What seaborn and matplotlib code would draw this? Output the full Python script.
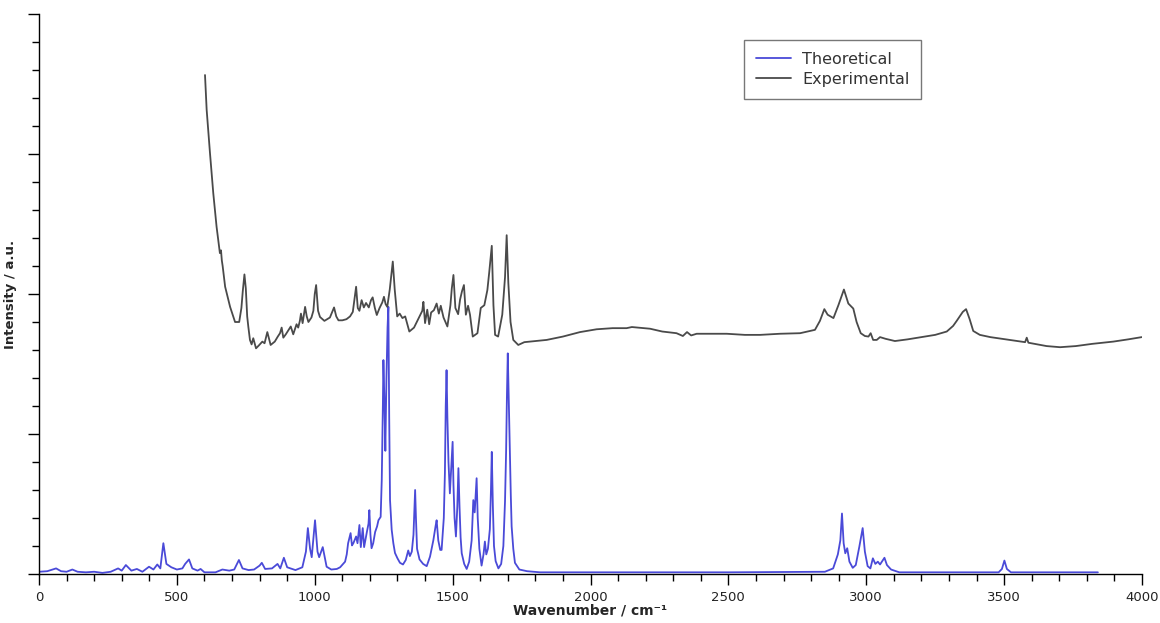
import matplotlib
matplotlib.use("Agg")
import matplotlib.pyplot as plt
from matplotlib.ticker import MultipleLocator, NullFormatter
import seaborn as sns
import pandas as pd

# Theoretical spectrum (wavenumber / cm-1, intensity a.u.)
theo_wn = [0, 30, 62, 80, 100, 121, 140, 170, 200, 230, 260, 287, 300, 315, 335, 355, 375, 399, 415, 429,
           440, 451, 462, 480, 500, 520, 530, 544, 556, 575, 586, 600, 640, 665, 690, 708, 725, 738, 760, 780,
           800, 808, 820, 845, 865, 875, 888, 900, 930, 955, 968, 975, 983, 989, 1001, 1010, 1016, 1029,
           1043, 1060, 1080, 1092, 1103, 1110, 1116, 1121, 1126, 1130, 1135, 1140, 1150, 1155, 1162, 1167,
           1174, 1179, 1189, 1195, 1198, 1202, 1206, 1212, 1219, 1226, 1231, 1239, 1243, 1247, 1249, 1253,
           1256, 1260, 1264, 1267, 1270, 1273, 1279, 1285, 1291, 1300, 1309, 1320, 1330, 1339, 1345, 1352,
           1358, 1362, 1364, 1367, 1371, 1380, 1393, 1406, 1418, 1430, 1438, 1442, 1448, 1455, 1460, 1468,
           1472, 1475, 1478, 1481, 1485, 1490, 1496, 1500, 1503, 1507, 1512, 1517, 1521, 1525, 1529, 1533,
           1542, 1551, 1560, 1569, 1575, 1580, 1587, 1591, 1597, 1605, 1612, 1617, 1622, 1628, 1635, 1639,
           1642, 1646, 1650, 1656, 1666, 1676, 1684, 1690, 1694, 1697, 1700, 1704, 1708, 1711, 1714, 1720,
           1726, 1742, 1770, 1817, 2000, 2500, 2850, 2880, 2897, 2906, 2912, 2918, 2924, 2931, 2939,
           2951, 2962, 2975, 2987, 2995, 3005, 3015, 3024, 3033, 3042, 3050, 3066, 3075, 3090, 3120, 3480,
           3492, 3501, 3510, 3525, 3840]
theo_int = [0.4, 0.5, 1.0, 0.5, 0.4, 0.8, 0.4, 0.3, 0.4, 0.2, 0.4, 1.0, 0.6, 1.6, 0.6, 0.9, 0.4, 1.3, 0.8, 1.7,
            1.0, 5.5, 1.8, 1.2, 0.8, 1.0, 1.8, 2.6, 1.0, 0.6, 0.9, 0.3, 0.3, 0.8, 0.6, 0.8, 2.5, 1.0, 0.7, 0.8,
            1.5, 2.0, 0.9, 1.0, 1.8, 1.0, 2.9, 1.2, 0.7, 1.2, 4.0, 8.2, 4.5, 3.0, 9.6, 4.0, 3.0, 4.8,
            1.3, 0.8, 0.9, 1.2, 1.8, 2.2, 3.5, 5.5, 6.5, 7.3, 5.1, 5.5, 6.7, 5.5, 8.75, 4.8,
            8.2, 4.8, 7.5, 9.0, 11.4, 7.0, 4.6, 5.5, 7.5, 8.5, 9.6, 10.2, 16.8, 30, 38.2, 30,
            22, 35, 44, 47.7, 28, 13.2, 7.9, 5.5, 3.75, 2.8, 2.0, 1.7, 2.5, 4.2, 3.2, 4.0,
            7, 12, 15, 10, 4.5, 2.6, 1.8, 1.4, 3.1, 6, 8.5, 9.6, 6, 4.3, 4.3, 10,
            18, 30, 36.4, 28, 20, 14.4, 20, 23.6, 16, 10, 6.7, 12, 18.9, 12, 6.5, 3.7,
            1.8, 0.9, 2.2, 6, 13.2, 11, 17.1, 10, 4.5, 1.5, 3.5, 5.8, 3.5, 4.5, 8, 15,
            21.8, 12, 5, 2.3, 1.0, 1.8, 5, 13, 22, 32, 39.4, 30, 21, 14, 8.5, 4.5,
            2.0, 0.8, 0.5, 0.3, 0.3, 0.3, 0.4, 1.0, 3.5, 6, 10.8, 5.5, 3.7, 4.6, 2.2,
            1.1, 1.6, 4.9, 8.2, 4, 1.4, 1.0, 2.8, 1.8, 2.2, 1.7, 2.9, 1.6, 0.8, 0.3, 0.3,
            0.9, 2.4, 0.9, 0.3, 0.3]

# Experimental spectrum
exp_wn = [602, 605, 608, 614, 620, 632, 644, 656, 660, 663, 666, 675, 693, 711, 726, 734, 739, 745, 750, 755,
          759, 765, 771, 777, 787, 797, 810, 818, 828, 840, 855, 866, 874, 880, 886, 895, 904, 913, 922, 934,
          940, 946, 950, 956, 965, 971, 977, 988, 995, 1000, 1005, 1012, 1019, 1035, 1055, 1070, 1078, 1086,
          1100, 1115, 1128, 1138, 1144, 1150, 1156, 1162, 1170, 1178, 1186, 1196, 1204, 1210, 1218, 1225,
          1235, 1245, 1251, 1257, 1263, 1272, 1283, 1290, 1299, 1308, 1318, 1328, 1343, 1360, 1378, 1390,
          1394, 1400, 1408, 1415, 1422, 1432, 1442, 1450, 1457, 1467, 1481, 1492, 1497, 1503, 1510, 1520,
          1527, 1534, 1541, 1548, 1556, 1563, 1573, 1590, 1602, 1615, 1626, 1633, 1642, 1648, 1654, 1665,
          1680, 1690, 1696, 1702, 1710, 1720, 1738, 1760, 1800, 1841, 1900, 1962, 2022, 2080, 2131, 2150,
          2216, 2260, 2312, 2335, 2350, 2365, 2385, 2440, 2494, 2560, 2615, 2687, 2760, 2814, 2832, 2848,
          2860, 2881, 2899, 2919, 2935, 2953, 2965, 2980, 2995, 3008, 3016, 3025, 3038, 3050, 3070, 3104,
          3150, 3200, 3250, 3292, 3315, 3328, 3350, 3362, 3375, 3388, 3412, 3450, 3520, 3576, 3582, 3588,
          3654, 3703, 3760, 3820, 3896, 3950, 3999]
exp_int = [89.1, 86, 82.9, 79, 75.2, 68, 62, 57.3, 57.8, 56, 55, 51.3, 47.7, 45, 45, 47.5, 50.5, 53.5, 51, 46,
           44.2, 41.8, 41, 42.1, 40.3, 40.8, 41.5, 41.2, 43.2, 40.9, 41.5, 42.4, 43, 44, 42.2, 42.8, 43.5, 44.2, 42.8, 44.6,
           44, 45.2, 46.5, 44.8, 47.7, 46, 45, 45.8, 47, 50, 51.6, 47, 45.9, 45.2, 45.8, 47.6, 46, 45.3,
           45.3, 45.5, 46, 46.8, 49, 51.3, 47.5, 47, 48.9, 47.6, 48.4, 47.6, 48.9, 49.4, 47.5, 46.25,
           47.5, 48.5, 49.5, 48.2, 47.7, 50.8, 55.8, 50.8, 46, 46.5, 45.7, 46, 43.3, 44, 45.8, 47,
           48.6, 44.8, 47.2, 44.6, 46.7, 47.1, 48.3, 46.5, 47.9, 45.8, 44.2, 48, 51, 53.4, 47.5, 46.4,
           49, 50.5, 51.6, 46.3, 47.9, 46.3, 42.4, 43, 47.5, 48, 50.7, 54, 58.6, 48, 42.7, 42.4,
           46.3, 53, 60.5, 52, 45, 41.8, 40.9, 41.4, 41.6, 41.8, 42.4, 43.2, 43.7, 43.9, 43.9, 44.1,
           43.8, 43.3, 43, 42.5, 43.2, 42.6, 42.9, 42.9, 42.9, 42.7, 42.7, 42.9, 43, 43.6, 45.2, 47.3,
           46.3, 45.7, 48, 50.8, 48.3, 47.4, 45, 43, 42.5, 42.4, 43, 41.8, 41.8, 42.3, 42, 41.6,
           41.9, 42.3, 42.7, 43.3, 44.3, 45.2, 46.8, 47.3, 45.5, 43.4, 42.7, 42.3, 41.8, 41.4, 42.2, 41.3,
           40.7, 40.5, 40.7, 41.1, 41.5, 41.9, 42.3]

series_names = ["Theoretical", "Experimental"]
series_colors = ["#4a4ad8", "#4a4a4a"]

df = pd.concat([
    pd.DataFrame({"wn": theo_wn, "intensity": theo_int, "series": series_names[0]}),
    pd.DataFrame({"wn": exp_wn, "intensity": exp_int, "series": series_names[1]}),
])

sns.set_style("white")
plt.rcParams["font.family"] = ["DejaVu Sans"]

fig = plt.figure(figsize=(11.6, 6.23), dpi=100)
ax = fig.add_axes([39 / 1160, 49 / 623, 1103 / 1160, 560 / 623])

sns.lineplot(data=df, x="wn", y="intensity", hue="series", hue_order=series_names,
             palette=series_colors, linewidth=1.3, ax=ax, estimator=None, sort=True)

ax.set_xlim(0, 4000)
ax.set_ylim(0, 100)
ax.xaxis.set_major_locator(MultipleLocator(500))
ax.xaxis.set_minor_locator(MultipleLocator(100))
ax.yaxis.set_major_locator(MultipleLocator(25))
ax.yaxis.set_minor_locator(MultipleLocator(5))
ax.yaxis.set_major_formatter(NullFormatter())
ax.tick_params(axis="both", which="major", direction="out", length=8, width=1, color="black",
               labelsize=9.5, labelcolor="#222222", bottom=True, left=True)
ax.tick_params(axis="both", which="minor", direction="out", length=5, width=1, color="black",
               bottom=True, left=True)
ax.tick_params(axis="x", which="major", pad=4)

for s in ["top", "right"]:
    ax.spines[s].set_visible(False)
for s in ["left", "bottom"]:
    ax.spines[s].set_color("black")
    ax.spines[s].set_linewidth(1)

ax.set_xlabel("Wavenumber / cm\u207b\u00b9", fontsize=10, fontweight="bold", labelpad=0)
ax.set_ylabel("Intensity / a.u.", fontsize=9.5, fontweight="bold")
ax.yaxis.set_label_coords(-0.02, 0.5)

leg = ax.legend(loc="upper left", bbox_to_anchor=(0.639, 0.954), fontsize=11.5, frameon=True,
                fancybox=False, edgecolor="#555555", handlelength=2.2, borderpad=0.75,
                labelspacing=0.3, handletextpad=0.7, borderaxespad=0, title=None)
leg.get_frame().set_linewidth(1)
for t in leg.get_texts():
    t.set_color("#333333")
for line in leg.get_lines():
    line.set_linewidth(1.3)

fig.savefig("out.png", dpi=100, facecolor="white")
